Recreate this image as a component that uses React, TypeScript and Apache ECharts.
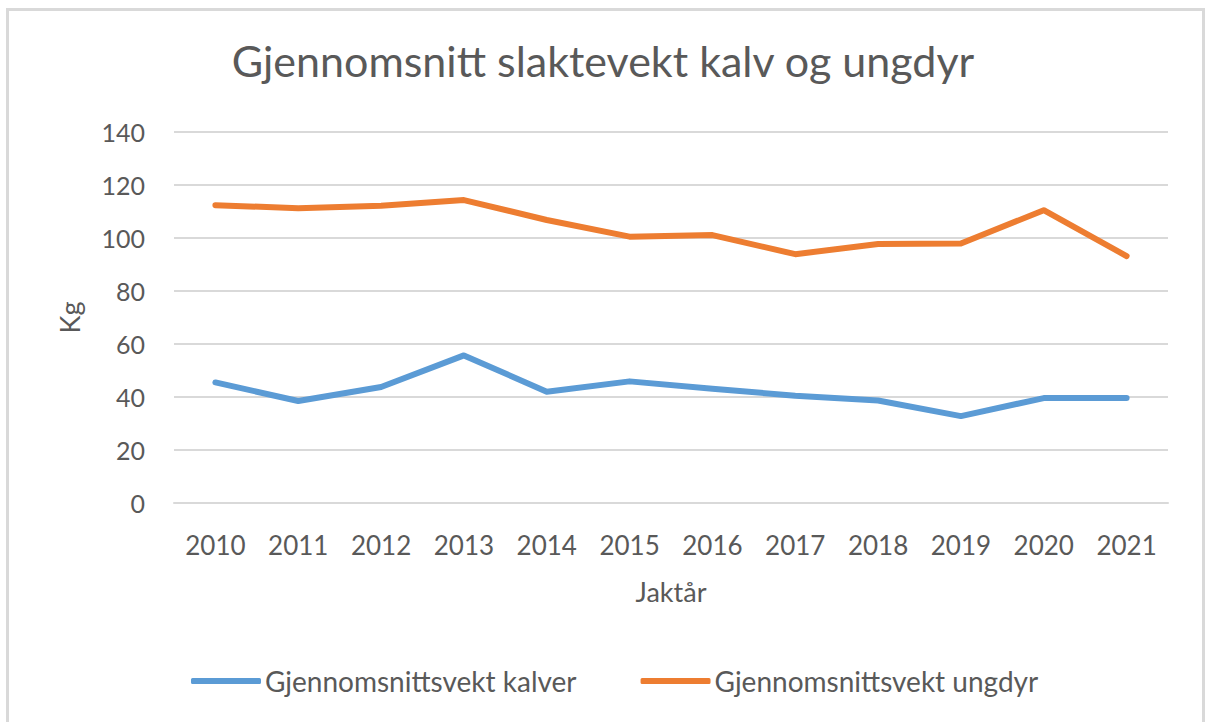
import React, { useEffect, useRef } from "react";
import * as echarts from "echarts";

const years = ["2010", "2011", "2012", "2013", "2014", "2015", "2016", "2017", "2018", "2019", "2020", "2021"];
const kalver = [45.5, 38.5, 43.8, 55.7, 42.0, 45.9, 43.1, 40.5, 38.7, 32.8, 39.6, 39.6];
const ungdyr = [112.4, 111.2, 112.2, 114.3, 106.8, 100.5, 101.1, 93.9, 97.7, 97.9, 110.5, 93.2];
const seriesNames = ["Gjennomsnittsvekt kalver", "Gjennomsnittsvekt ungdyr"];
const titleText = "Gjennomsnitt slaktevekt kalv og ungdyr";
const yName = "Kg";
const xName = "Jaktår";

const FONT = "Lato, 'Noto Sans', sans-serif";
const TXT = "#595959";

export default function App() {
  const ref = useRef<HTMLDivElement>(null);
  useEffect(() => {
    if (!ref.current) return;
    const chart = echarts.init(ref.current, undefined, { renderer: "svg" });
    chart.setOption({
      animation: false,
      backgroundColor: "#ffffff",
      textStyle: { fontFamily: FONT, color: TXT },
      title: {
        text: titleText,
        left: "center",
        top: 34,
        textStyle: { fontFamily: FONT, fontSize: 43, fontWeight: "normal", color: TXT },
      },
      graphic: [
        {
          type: "rect",
          shape: { x: 7.5, y: 9.5, width: 1196, height: 720 },
          style: { fill: "none", stroke: "#d9d9d9", lineWidth: 3 },
          silent: true,
        },
      ],
      grid: { left: 174, right: 38, top: 132, bottom: 219 },
      legend: {
        data: seriesNames,
        left: 186,
        top: 662,
        icon: "roundRect",
        itemWidth: 70,
        itemHeight: 6,
        itemGap: 64,
        textStyle: { fontFamily: FONT, fontSize: 28, color: TXT, padding: [0, 0, 0, -1] },
      },
      xAxis: {
        type: "category",
        data: years,
        boundaryGap: true,
        name: xName,
        nameLocation: "middle",
        nameGap: 75,
        nameTextStyle: { fontFamily: FONT, fontSize: 27, color: TXT },
        axisLine: { show: true, lineStyle: { color: "#d9d9d9", width: 2 } },
        axisTick: { show: false },
        axisLabel: { fontFamily: FONT, fontSize: 26, color: TXT, margin: 29 },
      },
      yAxis: {
        type: "value",
        min: 0,
        max: 140,
        interval: 20,
        name: yName,
        nameLocation: "middle",
        nameGap: 91,
        nameRotate: 90,
        nameTextStyle: { fontFamily: FONT, fontSize: 27, color: TXT },
        axisLine: { show: false },
        axisTick: { show: false },
        axisLabel: { fontFamily: FONT, fontSize: 25, color: TXT, margin: 29 },
        splitLine: { lineStyle: { color: "#d9d9d9", width: 2 } },
      },
      series: [
        {
          name: seriesNames[0],
          type: "line",
          data: kalver,
          symbol: "none",
          lineStyle: { color: "#5b9bd5", width: 6, cap: "round", join: "round" },
          itemStyle: { color: "#5b9bd5" },
        },
        {
          name: seriesNames[1],
          type: "line",
          data: ungdyr,
          symbol: "none",
          lineStyle: { color: "#ed7d31", width: 6, cap: "round", join: "round" },
          itemStyle: { color: "#ed7d31" },
        },
      ],
    });
    return () => chart.dispose();
  }, []);
  return (
    <div
      ref={ref}
      style={{ position: "fixed", left: 0, top: 0, width: 1206, height: 722 }}
    />
  );
}
